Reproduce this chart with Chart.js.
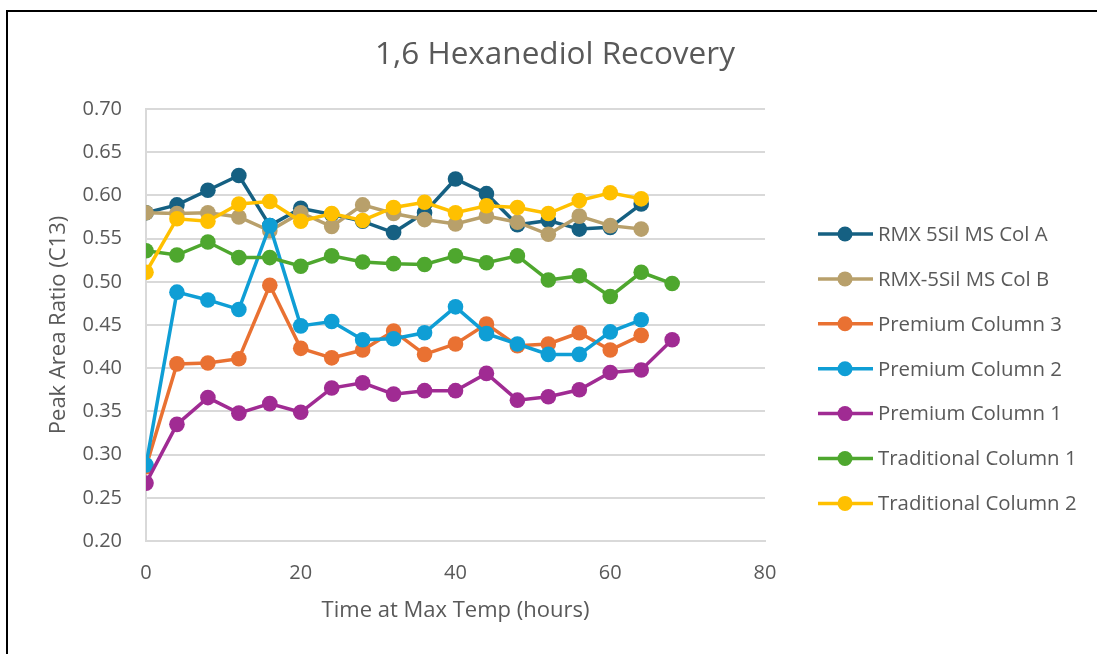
<!DOCTYPE html>
<html>
<head>
<meta charset="utf-8">
<script src="https://cdn.jsdelivr.net/npm/chart.js@4.4.0/dist/chart.umd.min.js"></script>
<style>
  body { margin: 0; background: #fff; overflow: hidden; }
  #wrap { position: absolute; left: 0; top: 0; width: 1097px; height: 654px; overflow: hidden; }
  #frame { position: absolute; left: 6px; top: 10px; width: 1200px; height: 800px;
           border-top: 2px solid #000; border-left: 2px solid #000; }
  canvas { position: absolute; left: 0; top: 0; }
</style>
</head>
<body>
<div id="wrap">
  <div id="frame"></div>
  <canvas id="chart1" width="1097" height="654"></canvas>
</div>
<script>
// hours at max temp
const hours = [0, 4, 8, 12, 16, 20, 24, 28, 32, 36, 40, 44, 48, 52, 56, 60, 64, 68];

const rmxA  = [0.580, 0.589, 0.606, 0.623, 0.565, 0.585, 0.578, 0.570, 0.557, 0.580, 0.619, 0.602, 0.566, 0.571, 0.561, 0.563, 0.590, null];
const rmxB  = [0.580, 0.579, 0.580, 0.575, 0.559, 0.580, 0.564, 0.589, 0.579, 0.572, 0.567, 0.576, 0.569, 0.555, 0.576, 0.565, 0.561, null];
const prem3 = [0.286, 0.405, 0.406, 0.411, 0.496, 0.423, 0.412, 0.421, 0.443, 0.416, 0.428, 0.451, 0.426, 0.428, 0.441, 0.421, 0.438, null];
const prem2 = [0.288, 0.488, 0.479, 0.468, 0.565, 0.449, 0.454, 0.433, 0.434, 0.441, 0.471, 0.440, 0.428, 0.416, 0.416, 0.442, 0.456, null];
const prem1 = [0.267, 0.335, 0.366, 0.348, 0.359, 0.349, 0.377, 0.383, 0.370, 0.374, 0.374, 0.394, 0.363, 0.367, 0.375, 0.395, 0.398, 0.433];
const trad1 = [0.536, 0.531, 0.546, 0.528, 0.528, 0.518, 0.530, 0.523, 0.521, 0.520, 0.530, 0.522, 0.530, 0.502, 0.507, 0.483, 0.511, 0.498];
const trad2 = [0.511, 0.573, 0.570, 0.590, 0.593, 0.570, 0.579, 0.571, 0.586, 0.592, 0.580, 0.588, 0.586, 0.579, 0.594, 0.603, 0.596, null];

const seriesNames  = ["RMX 5Sil MS Col A", "RMX-5Sil MS Col B", "Premium Column 3", "Premium Column 2",
                      "Premium Column 1", "Traditional Column 1", "Traditional Column 2"];
const seriesValues = [rmxA, rmxB, prem3, prem2, prem1, trad1, trad2];
const seriesColors = ["#156082", "#B8A06B", "#E97132", "#0F9ED5", "#A02B93", "#4EA72E", "#FFC000"];

const yTicks = [0.20, 0.25, 0.30, 0.35, 0.40, 0.45, 0.50, 0.55, 0.60, 0.65, 0.70];
const xTicks = [0, 20, 40, 60, 80];

const textColor = "#595959";
const fontName = "'Open Sans', sans-serif";

/*************Chart*************/

const datasets = seriesValues.map(function (vals, i) {
    const pts = [];
    vals.forEach(function (v, j) {
        if (v !== null) pts.push({ x: hours[j], y: v });
    });
    return {
        label: seriesNames[i],
        data: pts,
        borderColor: seriesColors[i],
        backgroundColor: seriesColors[i],
        pointBackgroundColor: seriesColors[i],
        pointBorderColor: seriesColors[i],
        borderWidth: 3.5,
        pointRadius: 7.8,
        pointBorderWidth: 0,
        tension: 0,
        fill: false,
        order: seriesValues.length - i
    };
});

const extras = {
    id: 'extras',
    afterDraw(chart) {
        const ctx = chart.ctx;
        ctx.save();
        // title
        ctx.fillStyle = textColor;
        ctx.font = "31.5px " + fontName;
        ctx.textAlign = "center";
        ctx.textBaseline = "middle";
        ctx.fillText("1,6 Hexanediol Recovery", 555, 55);
        // legend
        ctx.font = "20.4px " + fontName;
        ctx.textAlign = "left";
        seriesNames.forEach(function (name, i) {
            const y = 234 + i * 44.9;
            ctx.strokeStyle = seriesColors[i];
            ctx.lineWidth = 3.5;
            ctx.beginPath();
            ctx.moveTo(818, y);
            ctx.lineTo(873, y);
            ctx.stroke();
            ctx.fillStyle = seriesColors[i];
            ctx.beginPath();
            ctx.arc(845, y, 7.5, 0, Math.PI * 2);
            ctx.fill();
            ctx.fillStyle = textColor;
            ctx.fillText(name, 878, y + 1);
        });
        ctx.restore();
    }
};

const chart1 = new Chart(document.getElementById("chart1"), {
    type: 'line',
    data: { datasets: datasets },
    options: {
        responsive: false,
        animation: false,
        devicePixelRatio: 1,
        layout: { padding: { top: 109, right: 332, bottom: 0, left: 0 } },
        plugins: {
            legend: { display: false },
            title: { display: false },
            tooltip: { enabled: false }
        },
        scales: {
            x: {
                type: 'linear',
                min: 0,
                max: 80,
                afterFit: function (scale) { scale.height = 113; },
                afterBuildTicks: function (scale) { scale.ticks = xTicks.map(v => ({ value: v })); },
                ticks: { color: textColor, font: { family: fontName, size: 20 }, padding: 20, maxRotation: 0 },
                grid: { display: false, drawTicks: false },
                border: { display: true, color: "#D9D9D9", width: 2 },
                title: {
                    display: true,
                    text: "Time at Max Temp (hours)",
                    color: textColor,
                    font: { family: fontName, size: 22 },
                    padding: { top: 0, bottom: 30 }
                }
            },
            y: {
                min: 0.20,
                max: 0.70,
                afterFit: function (scale) { scale.width = 146; },
                afterBuildTicks: function (scale) { scale.ticks = yTicks.map(v => ({ value: v })); },
                ticks: {
                    color: textColor,
                    font: { family: fontName, size: 20 },
                    padding: 24,
                    callback: function (v) { return v.toFixed(2); }
                },
                grid: { color: "#D9D9D9", lineWidth: 2, drawTicks: false },
                border: { display: true, color: "#D9D9D9", width: 2 },
                title: {
                    display: true,
                    text: "Peak Area Ratio (C13)",
                    color: textColor,
                    font: { family: fontName, size: 22 },
                    padding: { top: 46, bottom: 0 }
                }
            }
        }
    },
    plugins: [extras]
});
</script>
</body>
</html>
